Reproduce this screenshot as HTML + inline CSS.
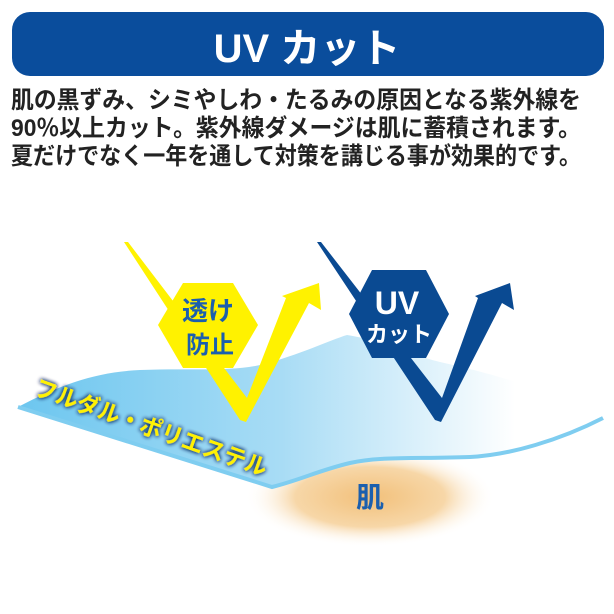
<!DOCTYPE html>
<html><head><meta charset="utf-8"><style>
html,body{margin:0;padding:0;background:#fff;}
svg{display:block;}
text{font-family:"Liberation Sans","Noto Sans CJK JP",sans-serif;}
</style></head><body>
<svg width="614" height="614" viewBox="0 0 614 614" xmlns="http://www.w3.org/2000/svg">
<defs>
<linearGradient id="fab" x1="0" y1="0" x2="1" y2="0" gradientUnits="objectBoundingBox">
<stop offset="0" stop-color="#6cc6ef"/>
<stop offset="0.45" stop-color="#a8dcf5"/>
<stop offset="0.85" stop-color="#ffffff"/>
<stop offset="1" stop-color="#ffffff"/>
</linearGradient>
<radialGradient id="skin" cx="0.5" cy="0.5" r="0.5">
<stop offset="0" stop-color="#f2c07a"/>
<stop offset="0.6" stop-color="#f7d7a8"/>
<stop offset="1" stop-color="#ffffff" stop-opacity="0"/>
</radialGradient>
<filter id="glow" x="-10%" y="-30%" width="120%" height="160%">
<feGaussianBlur in="SourceAlpha" stdDeviation="2.2" result="b"/>
<feFlood flood-color="#0a2a60"/>
<feComposite in2="b" operator="in" result="s"/>
<feMerge><feMergeNode in="s"/><feMergeNode in="s"/><feMergeNode in="SourceGraphic"/></feMerge>
</filter>
</defs>
<rect x="12" y="12" width="592" height="64" rx="18" fill="#0a4d9c"/>
<text x="307" y="62" font-size="40" font-weight="bold" fill="#fff" text-anchor="middle">UV カット</text>
<g font-size="24" font-weight="bold" fill="#222">
<text x="11" y="108" textLength="570" lengthAdjust="spacingAndGlyphs">肌の黒ずみ、シミやしわ・たるみの原因となる紫外線を</text>
<text x="11" y="136" textLength="570" lengthAdjust="spacingAndGlyphs">90％以上カット。紫外線ダメージは肌に蓄積されます。</text>
<text x="11" y="164" textLength="570" lengthAdjust="spacingAndGlyphs">夏だけでなく一年を通して対策を講じる事が効果的です。</text>
</g>
<ellipse cx="370" cy="497" rx="125" ry="50" fill="url(#skin)"/>
<path d="M18,407 C60,385 95,372 140,370 C190,368 230,372 260,365 C300,355 330,340 347,335 C380,340 410,355 440,362 C500,375 560,395 603,413 L603,418 C560,440 510,455 470,457 C420,459 380,456 350,463 C320,470 300,480 272,487 Z" fill="url(#fab)"/>
<path d="M18,407 L272,487 C300,480 320,470 350,463 C380,456 420,459 470,457 C510,455 560,440 603,418" fill="none" stroke="#7fcdf0" stroke-width="4"/>
<text x="370" y="507" font-size="28" font-weight="bold" fill="#1b5fae" text-anchor="middle">肌</text>
<text transform="translate(33,394) rotate(19.6)" font-size="23" font-weight="bold" fill="#fff200" filter="url(#glow)" textLength="245" lengthAdjust="spacingAndGlyphs">フルダル・ポリエステル</text>
<!-- yellow arrow -->
<polygon points="124,242 128,242 247,398 286,298 282,296 319,283 321,310 309,303 246,422 240,420" fill="#fff200"/>
<polygon points="158,325 183,283 233,283 258,325 233,368 183,368" fill="#fff200"/>
<text x="208" y="320" font-size="26" font-weight="bold" fill="#1b5fae" text-anchor="middle">透け</text>
<text x="210" y="353" font-size="24" font-weight="bold" fill="#1b5fae" text-anchor="middle">防止</text>
<!-- blue arrow -->
<polygon points="317,242 321,242 442,398 478,298 475,296 510,283 514,310 502,303 441,422 435,420" fill="#0a4a92"/>
<polygon points="349,314 372,270 426,270 449,314 426,358 372,358" fill="#0a4a92"/>
<text x="397" y="314" font-size="32" font-weight="bold" fill="#fff" text-anchor="middle">UV</text>
<text x="399" y="342" font-size="22" font-weight="bold" fill="#fff" text-anchor="middle">カット</text>
</svg>
</body></html>
